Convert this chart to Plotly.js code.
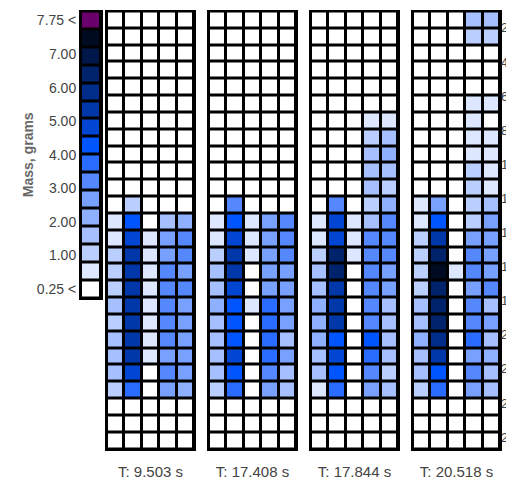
<!DOCTYPE html>
<html>
<head>
<meta charset="utf-8">
<script src="https://cdn.plot.ly/plotly-3.0.1.min.js"></script>
<style>
  html, body { margin: 0; padding: 0; background: #fff; }
  #chart { width: 506px; height: 481px; }
</style>
</head>
<body>
<div id="chart"></div>
<script>
// Mass bins shown in the key column (bin centres, grams) and their colours, lightest first
const legendMass = [0.25, 0.75, 1.25, 1.75, 2.25, 2.75, 3.25, 3.75,
                    4.25, 4.75, 5.25, 5.75, 6.25, 6.75, 7.25, 7.75];
const legendColors = ['#ffffff', '#dde7ff', '#bbcfff', '#a6c0ff', '#8fb0ff', '#77a0ff', '#5588ff', '#2a6cff',
                      '#0055ff', '#0046d2', '#0038aa', '#002d8a', '#00236c', '#00174a', '#000b22', '#6a006c'];
const legendTickText = ['0.25 <', '1.00', '2.00', '3.00', '4.00', '5.00', '6.00', '7.00', '7.75 <'];

// Grid layout of each snapshot: 5 columns x 26 rows (row 1 at the top)
const columns = [1, 2, 3, 4, 5];
const rows = [1, 2, 3, 4, 5, 6, 7, 8, 9, 10, 11, 12, 13, 14, 15, 16, 17, 18, 19, 20, 21, 22, 23, 24, 25, 26];
const rowTicks = [2, 4, 6, 8, 10, 12, 14, 16, 18, 20, 22, 24, 26];

const snapshotLabels = ['T: 9.503 s', 'T: 17.408 s', 'T: 17.844 s', 'T: 20.518 s'];

// Mass per cell (grams), one row per line, top row first
const massT1 = [
  [0.25, 0.25, 0.25, 0.25, 0.25],
  [0.25, 0.25, 0.25, 0.25, 0.25],
  [0.25, 0.25, 0.25, 0.25, 0.25],
  [0.25, 0.25, 0.25, 0.25, 0.25],
  [0.25, 0.25, 0.25, 0.25, 0.25],
  [0.25, 0.25, 0.25, 0.25, 0.25],
  [0.25, 0.25, 0.25, 0.25, 0.25],
  [0.25, 0.25, 0.25, 0.25, 0.25],
  [0.25, 0.25, 0.25, 0.25, 0.25],
  [0.25, 0.25, 0.25, 0.25, 0.25],
  [0.25, 0.25, 0.25, 0.25, 0.25],
  [0.25, 1.25, 0.25, 0.25, 0.25],
  [0.75, 4.25, 0.25, 1.75, 2.25],
  [0.75, 4.75, 0.75, 2.75, 3.25],
  [1.25, 5.25, 0.75, 2.75, 3.25],
  [1.25, 5.25, 0.75, 3.25, 2.75],
  [1.25, 5.25, 0.75, 3.25, 3.25],
  [1.75, 5.25, 0.75, 3.25, 2.75],
  [1.25, 5.25, 0.75, 3.25, 2.75],
  [1.75, 5.25, 0.75, 3.25, 2.75],
  [1.75, 5.25, 0.75, 2.75, 2.75],
  [1.75, 4.75, 0.25, 3.25, 2.75],
  [1.25, 3.75, 0.25, 2.75, 2.25],
  [0.25, 0.25, 0.25, 0.25, 0.25],
  [0.25, 0.25, 0.25, 0.25, 0.25],
  [0.25, 0.25, 0.25, 0.25, 0.25]
];

const massT2 = [
  [0.25, 0.25, 0.25, 0.25, 0.25],
  [0.25, 0.25, 0.25, 0.25, 0.25],
  [0.25, 0.25, 0.25, 0.25, 0.25],
  [0.25, 0.25, 0.25, 0.25, 0.25],
  [0.25, 0.25, 0.25, 0.25, 0.25],
  [0.25, 0.25, 0.25, 0.25, 0.25],
  [0.25, 0.25, 0.25, 0.25, 0.25],
  [0.25, 0.25, 0.25, 0.25, 0.25],
  [0.25, 0.25, 0.25, 0.25, 0.25],
  [0.25, 0.25, 0.25, 0.25, 0.25],
  [0.25, 0.25, 0.25, 0.25, 0.25],
  [0.25, 3.25, 0.25, 0.25, 0.25],
  [0.75, 4.25, 0.75, 2.75, 3.25],
  [0.75, 4.75, 0.75, 2.75, 3.25],
  [1.25, 5.25, 0.75, 2.75, 3.25],
  [1.75, 5.25, 0.25, 2.75, 2.75],
  [1.75, 4.75, 0.25, 2.75, 2.75],
  [2.25, 4.25, 0.75, 3.75, 2.75],
  [1.75, 4.25, 0.25, 3.75, 2.75],
  [1.75, 4.25, 0.25, 3.75, 1.75],
  [1.75, 4.75, 0.25, 3.75, 2.75],
  [1.75, 4.25, 0.25, 3.25, 1.75],
  [1.25, 3.75, 0.25, 2.75, 1.75],
  [0.25, 0.25, 0.25, 0.25, 0.25],
  [0.25, 0.25, 0.25, 0.25, 0.25],
  [0.25, 0.25, 0.25, 0.25, 0.25]
];

const massT3 = [
  [0.25, 0.25, 0.25, 0.25, 0.25],
  [0.25, 0.25, 0.25, 0.25, 0.25],
  [0.25, 0.25, 0.25, 0.25, 0.25],
  [0.25, 0.25, 0.25, 0.25, 0.25],
  [0.25, 0.25, 0.25, 0.25, 0.25],
  [0.25, 0.25, 0.25, 0.25, 0.25],
  [0.25, 0.25, 0.25, 0.75, 0.75],
  [0.25, 0.25, 0.25, 1.25, 1.75],
  [0.25, 0.25, 0.25, 1.75, 2.25],
  [0.25, 0.25, 0.25, 1.75, 1.75],
  [0.25, 0.25, 0.25, 1.75, 1.25],
  [0.25, 3.25, 0.25, 1.25, 2.25],
  [0.75, 4.75, 0.75, 1.75, 3.25],
  [0.75, 4.75, 0.75, 3.25, 3.25],
  [1.25, 6.25, 0.75, 3.25, 3.25],
  [1.75, 6.25, 0.25, 3.25, 2.75],
  [1.75, 5.25, 0.25, 3.25, 2.75],
  [2.25, 5.25, 0.25, 3.25, 1.75],
  [2.25, 5.25, 0.25, 3.25, 1.75],
  [2.25, 4.25, 0.25, 4.25, 1.75],
  [1.75, 4.75, 0.25, 3.75, 1.75],
  [1.75, 4.25, 0.25, 3.25, 1.25],
  [0.75, 3.75, 0.25, 2.75, 1.75],
  [0.25, 0.25, 0.25, 0.25, 0.25],
  [0.25, 0.25, 0.25, 0.25, 0.25],
  [0.25, 0.25, 0.25, 0.25, 0.25]
];

const massT4 = [
  [0.25, 0.25, 0.25, 1.75, 1.75],
  [0.25, 0.25, 0.25, 1.25, 1.25],
  [0.25, 0.25, 0.25, 0.25, 0.25],
  [0.25, 0.25, 0.25, 0.25, 0.25],
  [0.25, 0.25, 0.25, 0.25, 0.25],
  [0.25, 0.25, 0.25, 0.75, 0.75],
  [0.25, 0.25, 0.25, 0.75, 0.25],
  [0.25, 0.25, 0.25, 0.75, 0.75],
  [0.25, 0.25, 0.25, 0.75, 0.75],
  [0.25, 0.25, 0.25, 1.25, 0.75],
  [0.25, 0.25, 0.25, 1.25, 0.75],
  [0.75, 2.75, 0.25, 1.25, 1.75],
  [0.75, 4.25, 0.25, 1.25, 2.75],
  [1.25, 5.25, 0.25, 2.75, 2.75],
  [1.25, 6.25, 0.25, 3.25, 2.75],
  [1.25, 7.25, 0.75, 3.25, 2.75],
  [1.25, 6.25, 0.25, 2.75, 3.25],
  [1.75, 6.25, 0.25, 3.25, 1.75],
  [1.75, 6.25, 0.25, 3.25, 2.75],
  [2.25, 5.75, 0.25, 3.75, 1.75],
  [1.75, 5.25, 0.25, 2.75, 2.25],
  [1.75, 4.25, 0.25, 3.25, 1.75],
  [1.25, 3.75, 0.25, 2.75, 1.75],
  [0.25, 0.25, 0.25, 0.25, 0.25],
  [0.25, 0.25, 0.25, 0.25, 0.25],
  [0.25, 0.25, 0.25, 0.25, 0.25]
];

const snapshots = [massT1, massT2, massT3, massT4];

// ---- styling / geometry ----
const W = 506, H = 481;
const fx = p => p / W;
const fy = p => 1 - p / H;
const FONT = '"Liberation Sans", Arial, Helvetica, sans-serif';
const ZMIN = 0, ZMAX = 8;

// colour stops placed at each bin centre so every bin renders its own colour
const colorscale = [[0, legendColors[0]]]
  .concat(legendMass.map((m, i) => [(m - ZMIN) / (ZMAX - ZMIN), legendColors[i]]))
  .concat([[1, legendColors[legendColors.length - 1]]]);

// key column: one cell per bin, stacked by bin index; its labels are spread
// evenly from the bottom cell to the top cell
const binIndex = legendMass.map((m, i) => i);
const lastBin = legendMass.length - 1;
const keyTickPos = legendTickText.map((t, k) => k * lastBin / (legendTickText.length - 1));

const panelLeft = [107, 209, 311, 413];
const panelWidth = 87;
const panelTop = 11.5, panelBottom = 449;

const traces = [];
const layout = {
  width: W, height: H,
  margin: {l: 0, r: 0, t: 0, b: 0},
  paper_bgcolor: '#ffffff',
  plot_bgcolor: '#000000',
  showlegend: false,
  font: {family: FONT, size: 14, color: '#444'}
};

traces.push({
  type: 'heatmap',
  x: [0],
  y: binIndex,
  z: legendMass.map(m => [m]),
  zmin: ZMIN, zmax: ZMAX,
  colorscale: colorscale,
  showscale: false,
  xgap: 3, ygap: 3,
  hoverinfo: 'skip',
  xaxis: 'x', yaxis: 'y'
});
layout.xaxis = {
  domain: [fx(81), fx(101)], range: [-0.5, 0.5], anchor: 'y',
  showticklabels: false, showgrid: false, zeroline: false, ticks: '',
  showline: true, mirror: true, linecolor: '#000', linewidth: 2, fixedrange: true
};
layout.yaxis = {
  domain: [fy(298), fy(11.5)], range: [-0.5, lastBin + 0.5], anchor: 'x',
  tickvals: keyTickPos, ticktext: legendTickText,
  tickfont: {family: FONT, size: 14, color: '#444'},
  ticks: '', showgrid: false, zeroline: false,
  showline: true, mirror: true, linecolor: '#000', linewidth: 2, fixedrange: true,
  title: {text: 'Mass, grams', standoff: 0,
          font: {family: FONT, size: 14, color: '#666', weight: 'bold'}}
};

// snapshot grids
snapshots.forEach((z, i) => {
  const n = i + 2;
  traces.push({
    type: 'heatmap',
    x: columns, y: rows, z: z,
    zmin: ZMIN, zmax: ZMAX,
    colorscale: colorscale,
    showscale: false,
    xgap: 3, ygap: 3,
    hoverinfo: 'skip',
    xaxis: 'x' + n, yaxis: 'y' + n
  });
  layout['xaxis' + n] = {
    domain: [fx(panelLeft[i]), fx(panelLeft[i] + panelWidth)],
    range: [0.5, 5.5], anchor: 'y' + n,
    tickvals: [3], ticktext: [snapshotLabels[i]],
    ticks: 'outside', ticklen: 8, tickcolor: 'rgba(0,0,0,0)',
    tickfont: {family: FONT, size: 15, color: '#444'},
    showgrid: false, zeroline: false,
    showline: true, mirror: true, linecolor: '#000', linewidth: 2, fixedrange: true
  };
  layout['yaxis' + n] = {
    domain: [fy(panelBottom), fy(panelTop)],
    range: [26.5, 0.5], anchor: 'x' + n,
    showticklabels: false, ticks: '', showgrid: false, zeroline: false,
    showline: true, mirror: true, linecolor: '#000', linewidth: 2, fixedrange: true
  };
});

// row index axis on the right-hand side of the last grid
traces.push({type: 'scatter', mode: 'markers', x: [], y: [], xaxis: 'x5', yaxis: 'y6', hoverinfo: 'skip'});
layout.yaxis6 = {
  overlaying: 'y5', side: 'right', anchor: 'x5',
  range: [26.7, 1.04],
  tickvals: rowTicks,
  tickfont: {family: FONT, size: 13, color: '#444'},
  ticks: '', showgrid: false, zeroline: false, showline: false, fixedrange: true
};

Plotly.newPlot('chart', traces, layout, {displayModeBar: false, staticPlot: true});
</script>
</body>
</html>
